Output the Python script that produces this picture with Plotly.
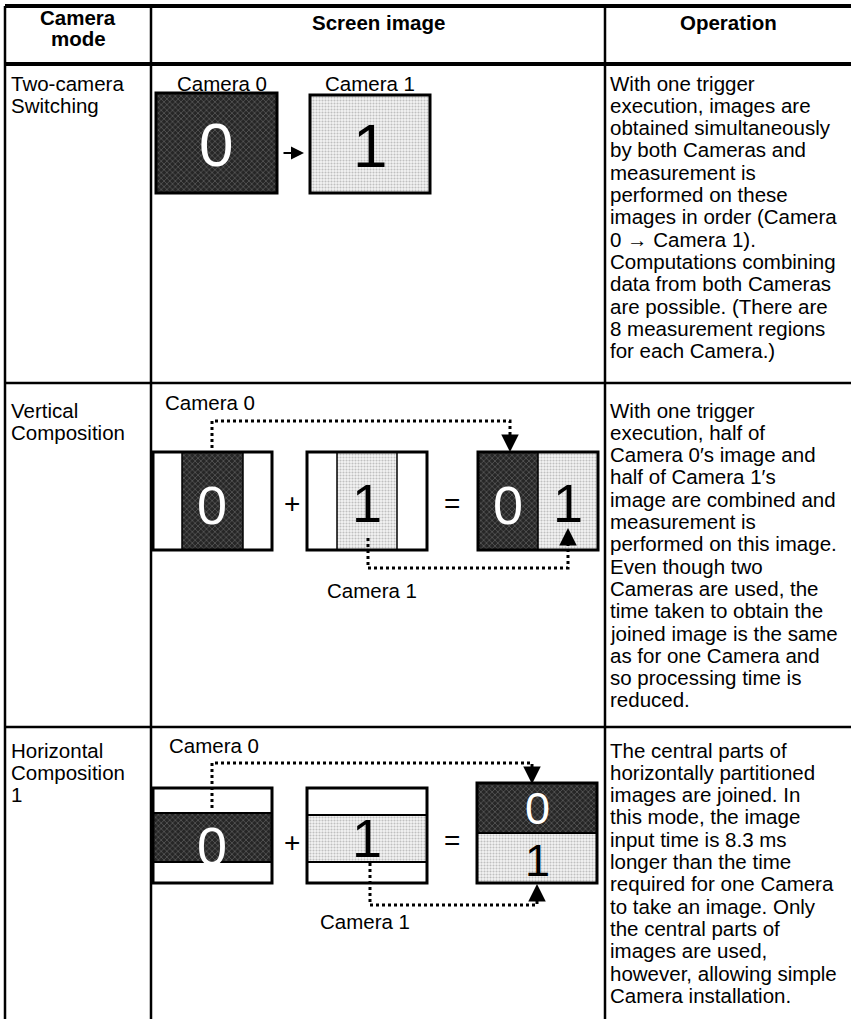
import plotly.graph_objects as go

# ---------------- data ----------------
header_mode = ["Camera", "mode"]
header_screen = "Screen image"
header_operation = "Operation"

mode_names = [
    ["Two-camera", "Switching"],
    ["Vertical", "Composition"],
    ["Horizontal", "Composition", "1"],
]

operation_lines = [
    ["With one trigger", "execution, images are", "obtained simultaneously",
     "by both Cameras and", "measurement is", "performed on these",
     "images in order (Camera", "0 \u2192 Camera 1).", "Computations combining",
     "data from both Cameras", "are possible. (There are",
     "8 measurement regions", "for each Camera.)"],
    ["With one trigger", "execution, half of", "Camera 0\u2032s image and",
     "half of Camera 1\u2032s", "image are combined and", "measurement is",
     "performed on this image.", "Even though two", "Cameras are used, the",
     "time taken to obtain the", "joined image is the same",
     "as for one Camera and", "so processing time is", "reduced."],
    ["The central parts of", "horizontally partitioned", "images are joined. In",
     "this mode, the image", "input time is 8.3 ms", "longer than the time",
     "required for one Camera", "to take an image. Only",
     "the central parts of", "images are used,", "however, allowing simple",
     "Camera installation."],
]

camera_labels = ["Camera 0", "Camera 1"]
digits = ["0", "1"]
operators = ["\u2192", "+", "="]

# ---------------- layout geometry ----------------
W, H = 851, 1019
col_edges = [5, 151, 605, 851]
row_edges = [6, 64, 383, 727, 1019]
first_line_y = [83, 410, 750]
line_step = 22.3
FONT = "Liberation Sans, Arial, Helvetica, sans-serif"
BODY = 20.5

DARK = dict(shape="x", bgcolor="#262626", fgcolor="#8f8f8f", size=4, solidity=0.35)
LIGHT = dict(shape=".", bgcolor="#f4f4f4", fgcolor="#8c8c8c", size=3, solidity=0.4)

fig = go.Figure()
shapes = []
annos = []


def fill_rect(x0, x1, y0, y1, pattern):
    fig.add_trace(go.Scatter(
        x=[x0, x1, x1, x0, x0], y=[y0, y0, y1, y1, y0], mode="lines",
        fill="toself", fillcolor=pattern["bgcolor"], fillpattern=pattern,
        line=dict(width=0), hoverinfo="skip", showlegend=False))


def outline(x0, x1, y0, y1, w=3):
    shapes.append(dict(type="rect", xref="x", yref="y", x0=x0, x1=x1, y0=y0, y1=y1,
                       line=dict(color="black", width=w), fillcolor="rgba(0,0,0,0)"))


def seg(x0, y0, x1, y1, w=2):
    shapes.append(dict(type="line", xref="x", yref="y", x0=x0, x1=x1, y0=y0, y1=y1,
                       line=dict(color="black", width=w)))


def text(x, y, s, size=BODY, color="black", anchor="left", bold=False):
    annos.append(dict(x=x, y=y, xref="x", yref="y", text=("<b>%s</b>" % s) if bold else s,
                      showarrow=False, xanchor=anchor, yanchor="middle",
                      font=dict(family=FONT, size=size, color=color)))


def dotted(xs, ys):
    fig.add_trace(go.Scatter(x=xs, y=ys, mode="lines",
                             line=dict(color="black", width=3, dash="3px,3px"),
                             hoverinfo="skip", showlegend=False))


def arrow(x_tail, y_tail, x_tip, y_tip, size=1.6, width=2):
    annos.append(dict(x=x_tip, y=y_tip, ax=x_tail, ay=y_tail, xref="x", yref="y",
                      axref="x", ayref="y", text="", showarrow=True, arrowhead=2,
                      arrowsize=size, arrowwidth=width, arrowcolor="black",
                      standoff=0, startstandoff=0))


# ---------------- table grid ----------------
seg(col_edges[0], row_edges[0], W, row_edges[0], 4)
seg(col_edges[0], row_edges[1], W, row_edges[1], 4)
seg(col_edges[0], row_edges[2], W, row_edges[2], 2.5)
seg(col_edges[0], row_edges[3], W, row_edges[3], 2.5)
for cx in col_edges[:3]:
    seg(cx, row_edges[0], cx, H, 2.5)

# headers
c0 = (col_edges[0] + col_edges[1]) / 2
text(c0, 17, header_mode[0], size=BODY, anchor="center", bold=True)
text(c0, 38, header_mode[1], size=BODY, anchor="center", bold=True)
text((col_edges[1] + col_edges[2]) / 2, 22, header_screen, size=BODY, anchor="center", bold=True)
text((col_edges[2] + W) / 2, 22, header_operation, size=BODY, anchor="center", bold=True)

# mode names + operation text
for r in range(3):
    for i, s in enumerate(mode_names[r]):
        text(col_edges[0] + 4, first_line_y[r] + i * line_step, s)
    for i, s in enumerate(operation_lines[r]):
        text(col_edges[2] + 3, first_line_y[r] + i * line_step, s)

# ---------------- row 1 : two-camera switching ----------------
fill_rect(156, 277, 93, 193, DARK)
fill_rect(310, 430, 95, 193, LIGHT)
outline(156, 277, 93, 193)
outline(310, 430, 95, 193)
text(216, 144, digits[0], size=62, color="white", anchor="center")
text(370, 145, digits[1], size=62, color="black", anchor="center")
text(222, 83, camera_labels[0], anchor="center")
text(370, 83, camera_labels[1], anchor="center")
arrow(282, 153, 304, 153, size=1.3, width=2)

# ---------------- row 2 : vertical composition ----------------
fill_rect(182, 243, 452, 550, DARK)
fill_rect(337, 397, 452, 550, LIGHT)
fill_rect(478, 538, 452, 550, DARK)
fill_rect(538, 598, 452, 550, LIGHT)
for x in (182, 243):
    seg(x, 452, x, 550, 1.5)
for x in (337, 397):
    seg(x, 452, x, 550, 1.5)
seg(538, 452, 538, 550, 1.5)
outline(153, 272, 452, 550)
outline(307, 427, 452, 550)
outline(478, 598, 452, 550)
text(212, 505, digits[0], size=54, color="white", anchor="center")
text(367, 503, digits[1], size=54, color="black", anchor="center")
text(508, 505, digits[0], size=54, color="white", anchor="center")
text(568, 503, digits[1], size=54, color="black", anchor="center")
text(292, 503, operators[1], size=28, anchor="center")
text(452, 503, operators[2], size=28, anchor="center")
text(210, 402, camera_labels[0], anchor="center")
text(372, 590, camera_labels[1], anchor="center")
dotted([212, 212, 510, 510], [448, 421, 421, 440])
arrow(510, 440, 510, 452, size=1.4, width=2.5)
dotted([368, 368, 568, 568], [538, 568, 568, 542])
arrow(568, 542, 568, 528, size=1.4, width=2.5)

# ---------------- row 3 : horizontal composition ----------------
fill_rect(153, 272, 813, 862, DARK)
fill_rect(307, 427, 815, 862, LIGHT)
fill_rect(477, 597, 783, 833, DARK)
fill_rect(477, 597, 833, 883, LIGHT)
for y in (813, 862):
    seg(153, y, 272, y, 2)
for y in (815, 862):
    seg(307, y, 427, y, 2)
seg(477, 833, 597, 833, 2)
outline(153, 272, 788, 883)
outline(307, 427, 788, 883)
outline(477, 597, 783, 883)
text(212, 846, digits[0], size=54, color="white", anchor="center")
text(367, 838, digits[1], size=54, color="black", anchor="center")
text(537, 808, digits[0], size=45, color="white", anchor="center")
text(537, 860, digits[1], size=45, color="black", anchor="center")
text(292, 842, operators[1], size=28, anchor="center")
text(452, 840, operators[2], size=28, anchor="center")
text(214, 745, camera_labels[0], anchor="center")
text(365, 921, camera_labels[1], anchor="center")
dotted([212, 212, 532, 532], [808, 763, 763, 772])
arrow(532, 772, 532, 784, size=1.4, width=2.5)
dotted([370, 370, 537, 537], [863, 905, 905, 897])
arrow(537, 897, 537, 884, size=1.4, width=2.5)

fig.update_layout(
    width=W, height=H, margin=dict(l=0, r=0, t=0, b=0),
    paper_bgcolor="white", plot_bgcolor="white",
    xaxis=dict(range=[0, W], visible=False, fixedrange=True),
    yaxis=dict(range=[H, 0], visible=False, fixedrange=True),
    shapes=shapes, annotations=annos, showlegend=False,
)
fig.write_html(
    "out.html",
    config={"displayModeBar": False},
    post_script="document.body.style.margin='0';document.body.style.overflow='hidden';",
)
